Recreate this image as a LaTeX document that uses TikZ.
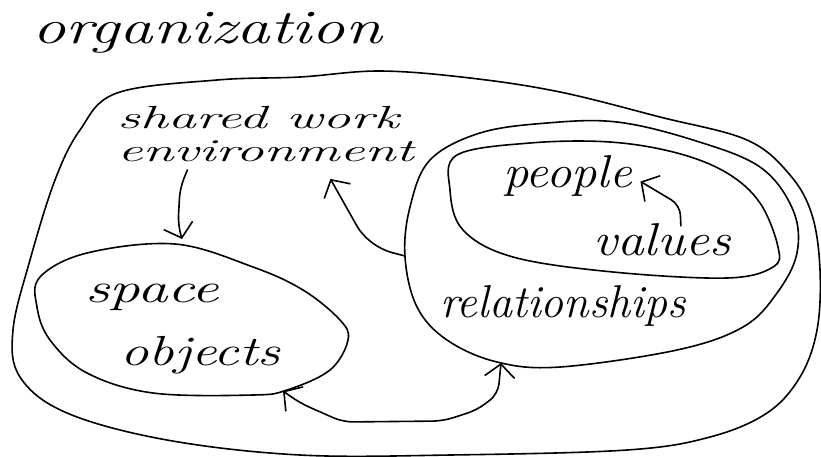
\documentclass[tikz,border=0pt]{standalone}
\usepackage{tikz}
\usetikzlibrary{arrows.meta}
\tikzstyle{every node}=[inner sep=0pt,anchor=base west]
\tikzstyle{word}=[font=\fontsize{42}{42}\selectfont\itshape]
\tikzstyle{smallword}=[font=\fontsize{32}{33}\selectfont\itshape]
\tikzstyle{bigword}=[font=\fontsize{46}{46}\selectfont\itshape]
\tikzstyle{ring}=[line width=1.6pt,line join=round]
\tikzstyle{link}=[line width=1.6pt,line cap=round,line join=round,rounded corners=10pt,
  -{Straight Barb[length=13pt,width=30pt]}]
\tikzstyle{both}=[link,{Straight Barb[length=13pt,width=30pt]}-{Straight Barb[length=13pt,width=30pt]}]

\begin{document}
\begin{tikzpicture}[x=1pt,y=-1pt]
  \useasboundingbox (0,0) rectangle (821,456);

  % labels
  \node[font=\fontsize{48}{48}\selectfont\itshape,xscale=1.39] (org) at (32,43) {organization};
  \node[smallword,xscale=1.75,align=left,anchor=north west] (env) at (117,106) {shared work\\environment};
  \node[word,xscale=1.45] (space) at (85,302) {space};
  \node[word,xscale=1.35] (objects) at (120,365) {objects};
  \node[bigword,xscale=1.1] (people) at (503,187) {people};
  \node[bigword,xscale=1.16] (values) at (593,255) {values};
  \node[bigword] (rel) at (440,317) {relationships};

  % outlines
  \draw[ring] plot[smooth cycle,tension=0.6] coordinates {
    (117,93) (217,80) (300,77) (380,71) (470,78) (560,92) (660,117) (747,140)
    (790,175) (812,215) (820,270) (817,330) (800,377) (767,413) (710,437)
    (627,450) (450,455) (300,455) (167,440) (67,413) (20,377) (13,330)
    (30,260) (55,180) (80,130)};
  \draw[ring] plot[smooth cycle,tension=0.6] coordinates {
    (405,257) (410,207) (430,160) (480,133) (547,123) (617,122) (693,140)
    (760,167) (793,210) (797,253) (777,293) (743,327) (677,350) (560,367)
    (497,362) (447,340) (417,307)};
  \draw[ring] plot[smooth cycle,tension=0.6] coordinates {
    (457,155) (450,190) (463,230) (513,257) (613,272) (727,278) (773,267)
    (778,247) (760,203) (727,173) (677,153) (610,142) (530,143)};
  \draw[ring] plot[smooth cycle,tension=0.6] coordinates {
    (175,244) (253,267) (303,290) (340,320) (348,340) (330,370) (287,390)
    (253,395) (153,393) (87,373) (50,340) (37,307) (40,277) (87,253)};

  % ends of the links on the outlines
  \coordinate (spaceTop) at (182,239);
  \coordinate (spaceFoot) at (283,391);
  \coordinate (relWest) at (405,256);
  \coordinate (relFoot) at (501,363);

  % links
  \draw[link] ([xshift=-78pt,yshift=-8pt]env.south) -- (180,188) -- (178,225) -- (spaceTop);
  \draw[link] (relWest) -- (382,250) -- (362,235) -- ([xshift=65pt,yshift=-17pt]env.south);
  \draw[both] (relFoot) -- (498,394) -- (477,410) -- (443,421) -- (343,422) -- (300,403) -- (spaceFoot);
  \draw[link] ([xshift=-50pt,yshift=-3pt]values.north east) -- (680,205) -- ([xshift=8pt,yshift=-6pt]people.east);
\end{tikzpicture}
\end{document}
